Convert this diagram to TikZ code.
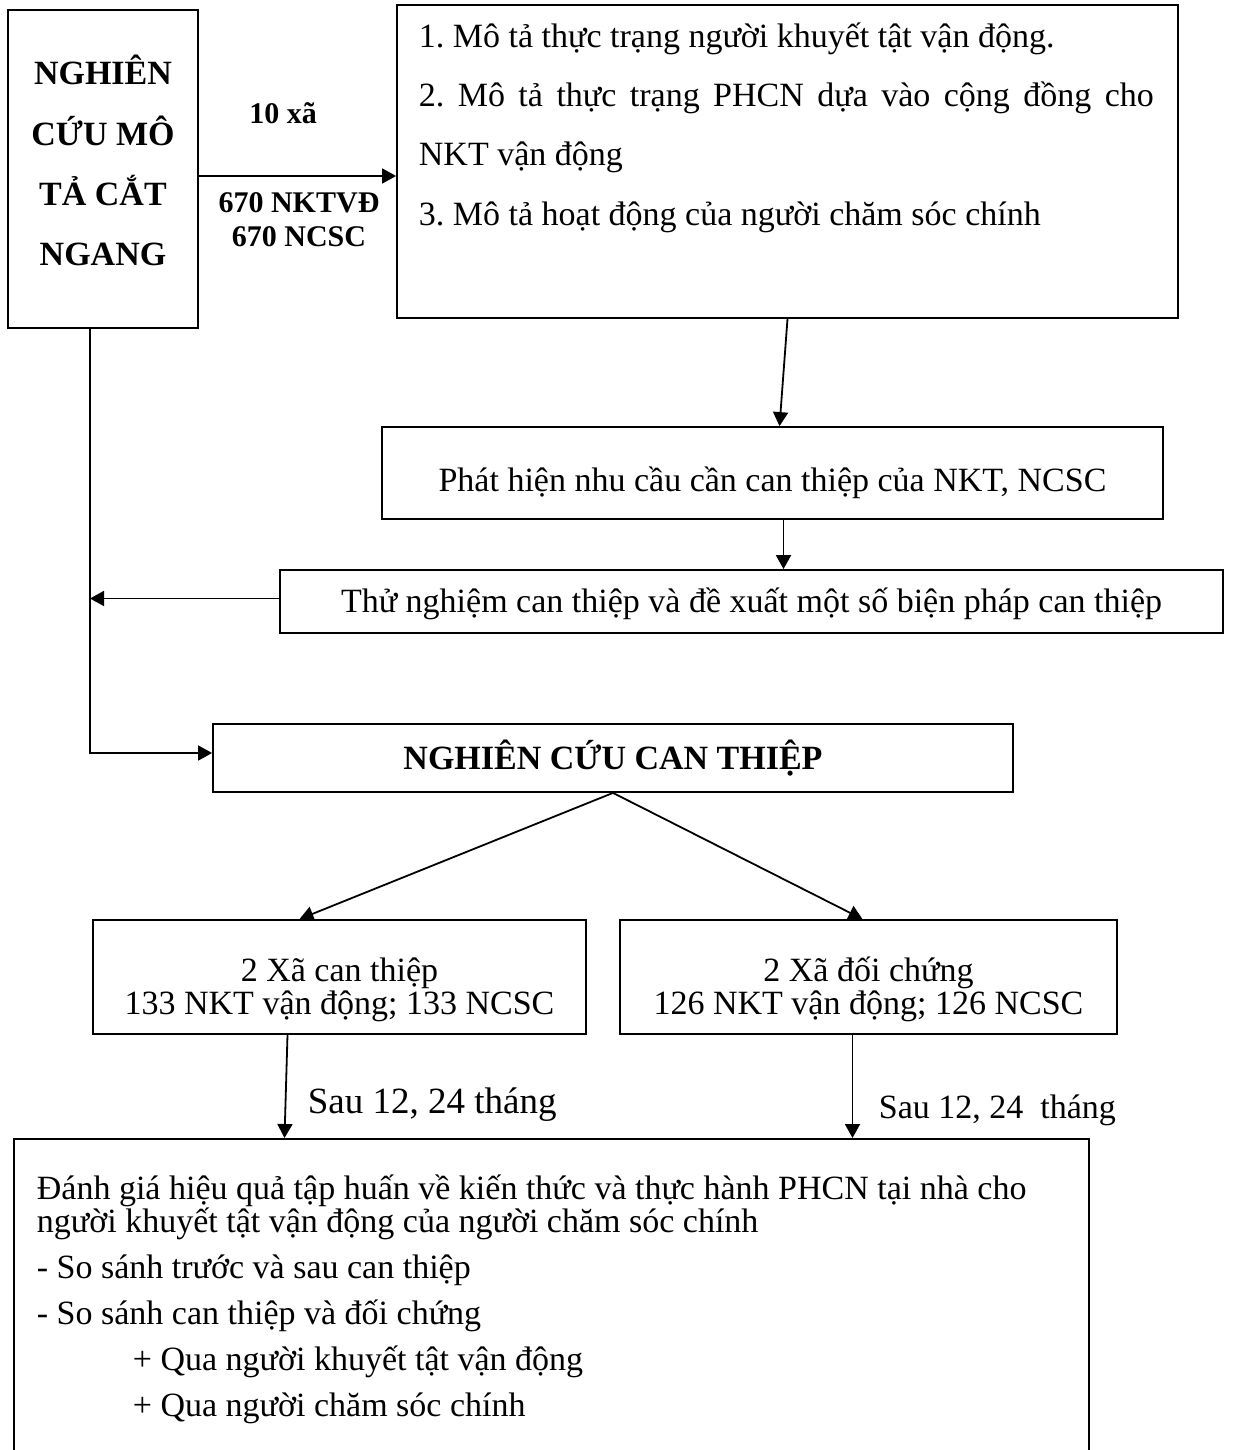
\documentclass[tikz,border=0pt]{standalone}
\usepackage{fontspec}
\setmainfont{Liberation Serif}
\frenchspacing
\usetikzlibrary{positioning,arrows.meta,calc}
\tikzset{
  every picture/.style={line width=1.8pt},
  box/.style={draw,rectangle,inner sep=0pt,align=center,font=\fontsize{34}{33}\selectfont},
  txt/.style={inner sep=0pt,align=left,font=\fontsize{34}{33}\selectfont},
  lbl/.style={inner sep=0pt,align=center,font=\fontsize{30}{34}\selectfont\bfseries},
  arr/.style={-{Triangle[length=14pt,width=15pt]},line width=1.8pt},
}

\begin{document}
\begin{tikzpicture}[x=1pt,y=-1pt]
\useasboundingbox (0,0) rectangle (1235,1450);
\clip (0,0) rectangle (1235,1450);
% cross-sectional study
\node[box,minimum width=190pt,minimum height=318pt,text height=192pt,text depth=0pt,
  font=\fontsize{34}{60}\selectfont\bfseries] (A) at (103,169) {NGHIÊN\\CỨU MÔ\\TẢ CẮT\\NGANG};
\node[lbl] (xa) at (283,113) {10 xã};
\node[lbl] (mau) at (299,220) {670 NKTVĐ\\670 NCSC};
% aims
\node[box,minimum width=781pt,minimum height=313pt] (B) at (787.5,161.5) {};
\node[txt,anchor=base west,font=\fontsize{34}{59}\selectfont] (Btxt) at (418,225)
  {1. Mô tả thực trạng người khuyết tật vận động.\\
   \makebox[735pt][s]{2. Mô tả thực trạng PHCN dựa vào cộng đồng cho}\\
   NKT vận động\\
   3. Mô tả hoạt động của người chăm sóc chính};
\draw[arr] ([yshift=-7pt]A.east) -- ([yshift=-7pt]A.east -| B.west);
% needs and trial
\node[box,minimum width=781pt,minimum height=92pt,text height=36pt,text depth=0pt] (C) at (772.5,473) {Phát hiện nhu cầu cần can thiệp của NKT, NCSC};
\draw[arr] (B.south) -- ([xshift=7pt]C.north);
\node[box,minimum width=943pt,minimum height=63pt,text height=22pt,text depth=0pt] (D) at (751.5,601.5) {Thử nghiệm can thiệp và đề xuất một số biện pháp can thiệp};
\draw[arr] ([xshift=11pt]C.south) -- ([xshift=11pt]C.south |- D.north);
% intervention study
\node[box,minimum width=800pt,minimum height=68pt,font=\fontsize{34}{40}\selectfont\bfseries] (E) at (613,758) {NGHIÊN CỨU CAN THIỆP};
\coordinate (bend) at ([xshift=-13pt,yshift=5pt]A.south |- E.west);
\draw[arr] ([xshift=-13pt]A.south) -- (bend) -- (bend -| E.west);
\draw[arr] ([yshift=3pt]D.west) -- ([yshift=3pt]D.west -| bend);
% two arms
\node[box,minimum width=493pt,minimum height=114pt,text height=74pt,text depth=0pt] (F) at (339.5,977) {2 Xã can thiệp\\133 NKT vận động; 133 NCSC};
\node[box,minimum width=497pt,minimum height=114pt,text height=74pt,text depth=0pt] (G) at (868.5,977) {2 Xã đối chứng\\126 NKT vận động; 126 NCSC};
\draw[arr] (E.south) -- ([xshift=-40pt]F.north);
\draw[arr] (E.south) -- ([xshift=-6pt]G.north);
% evaluation
\node[box,minimum width=1075pt,minimum height=330pt,anchor=north west] (H) at (13,1138) {};
\node[txt,anchor=base west] (Htxt) at (36,1416)
  {Đánh giá hiệu quả tập huấn về kiến thức và thực hành PHCN tại nhà cho\\
   người khuyết tật vận động của người chăm sóc chính\\[13pt]
   - So sánh trước và sau can thiệp\\[13pt]
   - So sánh can thiệp và đối chứng\\[13pt]
   \hspace*{96pt}+ Qua người khuyết tật vận động\\[13pt]
   \hspace*{96pt}+ Qua người chăm sóc chính};
\draw[arr] ([xshift=-52pt]F.south) -- ([xshift=-55pt]F.south |- H.north);
\draw[arr] ([xshift=-16pt]G.south) -- ([xshift=-16pt]G.south |- H.north);
\node[txt,anchor=base west,font=\fontsize{37}{40}\selectfont] (sau1) at (307,1113) {Sau 12, 24 tháng};
\node[txt,anchor=base west] (sau2) at (878,1118) {Sau 12, 24\ \ tháng};
\end{tikzpicture}
\end{document}
